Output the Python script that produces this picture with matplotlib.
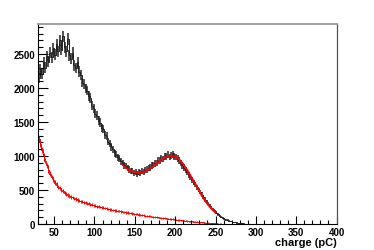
import numpy as np
import matplotlib
matplotlib.use("Agg")
import matplotlib.pyplot as plt
from matplotlib.ticker import MultipleLocator

# ---- data ----
bin_width = 2.0
black_start = 30.0
black_counts = [
    2150, 2280, 2200, 2380, 2300, 2470, 2380, 2520, 2450, 2580,   # 30-48
    2490, 2640, 2540, 2700, 2560, 2760, 2600, 2540, 2720, 2480,   # 50-68
    2430, 2520, 2330, 2290, 2380, 2240, 2190, 2080, 2060, 1990,   # 70-88
    1960, 1880, 1850, 1740, 1700, 1620, 1590, 1520, 1490, 1410,   # 90-108
    1390, 1310, 1290, 1210, 1180, 1130, 1100, 1040, 1020, 980,    # 110-128
    960, 920, 900, 860, 850, 820, 800, 780, 780, 755,             # 130-148
    765, 740, 760, 750, 775, 760, 795, 800, 820, 830,             # 150-168
    860, 865, 890, 900, 930, 935, 960, 955, 1000, 990,            # 170-188
    1020, 985, 1010, 1025, 990, 985, 960, 935, 895, 860,          # 190-208
    830, 790, 760, 720, 690, 650, 610, 575, 540, 500,             # 210-228
    470, 430, 400, 360, 330, 300, 270, 240, 215, 185,             # 230-248
    160, 140, 120, 105, 90, 78, 66, 55, 47, 40,                   # 250-268
    33, 28, 23, 18, 14, 11, 8, 6, 4, 3,                           # 270-288
    2, 1, 1, 0, 0, 0, 0, 0, 0, 0,                                 # 290-308
]

red_counts = [
    1250, 1180, 1090, 1000, 930, 860, 790, 740, 690, 650,   # 30-48
    610, 580, 550, 525, 500, 480, 460, 445, 430, 415,       # 50-68
    400, 390, 378, 366, 355, 345, 335, 326, 318, 310,       # 70-88
    302, 295, 288, 281, 274, 268, 262, 256, 250, 244,       # 90-108
    238, 233, 228, 222, 217, 212, 207, 202, 198, 193,       # 110-128
    189, 184, 180, 176, 171, 167, 163, 159, 155, 151,       # 130-148
    147, 143, 139, 135, 131, 128, 124, 120, 117, 113,       # 150-168
    110, 106, 103, 100, 97, 94, 91, 88, 85, 82,             # 170-188
    79, 76, 73, 70, 67, 64, 61, 58, 55, 52,                 # 190-208
    50, 47, 45, 42, 40, 37, 35, 33, 31, 29,                 # 210-228
    27, 25, 23, 21, 19, 17, 15, 13, 11, 9,                  # 230-248
    8, 7, 6, 5, 4, 3, 2, 2, 1, 1,                           # 250-268
    1, 0, 0, 0, 0, 0, 0, 0, 0, 0,                           # 270-288
]

fit_x = [135, 140, 145, 150, 155, 160, 165, 170, 175, 180, 185, 190,
         195, 200, 205, 210, 215, 220, 225, 230, 235, 240, 245, 250]
fit_y = [870, 815, 780, 760, 752, 760, 785, 825, 870, 920, 965, 995,
         1005, 990, 950, 880, 790, 690, 590, 480, 380, 295, 225, 170]

x_ticks = [50, 100, 150, 200, 250, 300, 350, 400]
y_ticks = [0, 500, 1000, 1500, 2000, 2500]
x_label = "charge (pC)"

# ---- plot ----
plt.rcParams['font.family'] = ['Liberation Sans', 'DejaVu Sans']
fig = plt.figure(figsize=(3.74, 2.51), dpi=100)
ax = fig.add_axes([0.1016, 0.1036, 0.7982, 0.7968])

bc = np.array(black_counts, dtype=float)
bx = black_start + bin_width * np.arange(len(bc))
rc = np.array(red_counts, dtype=float)
rx = black_start + bin_width * np.arange(len(rc))

# black histogram: step line + error bars
edges_b = np.append(bx, bx[-1] + bin_width)
ax.stairs(bc, edges_b, color='black', lw=0.6)
ax.vlines(bx + bin_width / 2, bc - 1.6 * np.sqrt(bc), bc + 1.6 * np.sqrt(bc),
          color='#222222', lw=1.1)

# red histogram
edges_r = np.append(rx, rx[-1] + bin_width)
ax.stairs(rc, edges_r, color='red', lw=0.7)
ax.vlines(rx + bin_width / 2, rc - 1.3 * np.sqrt(rc), rc + 1.3 * np.sqrt(rc),
          color='red', lw=0.7)

# fit curve
ax.plot(fit_x, fit_y, color='red', lw=1.4, solid_joinstyle='round')

ax.set_xlim(30, 400)
ax.set_ylim(0, 2940)
ax.set_xticks(x_ticks)
ax.set_yticks(y_ticks)
ax.xaxis.set_minor_locator(MultipleLocator(10))
ax.yaxis.set_minor_locator(MultipleLocator(100))
ax.tick_params(which='both', direction='in', top=False, right=False,
               labelsize=7, pad=2)
ax.tick_params(which='major', axis='y', length=7, width=0.8)
ax.tick_params(which='minor', axis='y', length=3.5, width=0.8)
ax.tick_params(which='major', axis='x', length=6, width=0.8)
ax.tick_params(which='minor', axis='x', length=3, width=0.8)
for lab in ax.get_xticklabels() + ax.get_yticklabels():
    lab.set_fontweight('bold')
for s in ['left', 'bottom']:
    ax.spines[s].set_color('black')
    ax.spines[s].set_linewidth(0.8)
ax.spines['top'].set_color('#999999')
ax.spines['top'].set_linewidth(1.3)
ax.spines['right'].set_color('#555555')
ax.spines['right'].set_linewidth(0.9)

fig.text(0.90, 0.030, x_label, ha='right', va='center', fontsize=8,
         fontweight='bold')

fig.savefig('out.png', dpi=100)
